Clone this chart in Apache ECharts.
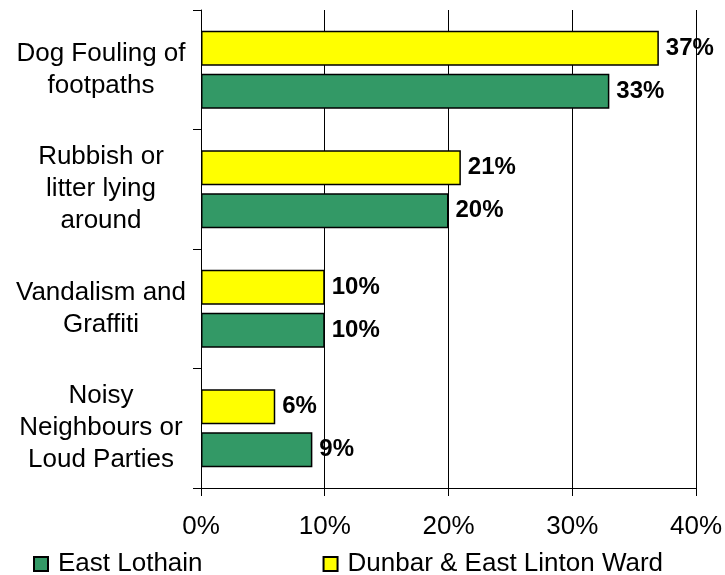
<html>
<head>
    <meta charset="utf-8" />
    <title>Local issues</title>
    <script src="https://cdnjs.cloudflare.com/ajax/libs/echarts/6.0.0/echarts.min.js"></script>
</head>
<body style="margin:0">
    <div id="chart" style="width:725px;height:575px;"></div>
    <script type="text/javascript">
        var categories = ['Dog Fouling of\nfootpaths', 'Rubbish or\nlitter lying\naround', 'Vandalism and\nGraffiti', 'Noisy\nNeighbours or\nLoud Parties'];
        var eastLothian = [33, 20, 10, 9];
        var dunbarWard = [37, 21, 10, 6];
        var seriesNames = ['East Lothain', 'Dunbar & East Linton Ward'];
        var xTicks = [0, 10, 20, 30, 40];

        var chart = echarts.init(document.getElementById('chart'));
        var font = 'Liberation Sans, Arial, sans-serif';

        var barLabel = {
            show: true,
            position: 'right',
            distance: 7,
            formatter: '{c}%',
            fontFamily: font,
            fontSize: 24,
            fontWeight: 'bold',
            color: '#000'
        };

        var option = {
            animation: false,
            textStyle: { fontFamily: font },
            grid: { left: 201, right: 26, top: 10, bottom: 87 },
            legend: {
                top: 546,
                left: 28,
                itemWidth: 14,
                itemHeight: 14,
                itemGap: 120,
                icon: 'rect',
                textStyle: { fontFamily: font, fontSize: 26, color: '#000', padding: [0, 0, 0, 5] },
                data: seriesNames
            },
            xAxis: {
                type: 'value',
                min: xTicks[0],
                max: xTicks[xTicks.length - 1],
                interval: 10,
                axisLine: { show: true, lineStyle: { color: '#000', width: 1 } },
                axisTick: { show: true, length: 8, lineStyle: { color: '#000' } },
                splitLine: { show: true, lineStyle: { color: '#000', width: 1 } },
                axisLabel: { formatter: '{value}%', fontSize: 26, color: '#000', margin: 26, fontFamily: font }
            },
            yAxis: {
                type: 'category',
                inverse: true,
                data: categories,
                axisLine: { show: true, lineStyle: { color: '#000', width: 1 } },
                axisTick: { show: true, length: 8, lineStyle: { color: '#000' } },
                axisLabel: { align: 'center', margin: 100, fontSize: 26, color: '#000', lineHeight: 32, fontFamily: font }
            },
            series: [
                {
                    name: seriesNames[1],
                    type: 'bar',
                    data: dunbarWard,
                    barWidth: 35,
                    barGap: '23%',
                    itemStyle: { color: '#ffff00', borderColor: '#000', borderWidth: 1.5 },
                    label: barLabel
                },
                {
                    name: seriesNames[0],
                    type: 'bar',
                    data: eastLothian,
                    barWidth: 35,
                    barGap: '23%',
                    itemStyle: { color: '#339966', borderColor: '#000', borderWidth: 1.5 },
                    label: barLabel
                }
            ]
        };
        chart.setOption(option);
    </script>
</body>
</html>
